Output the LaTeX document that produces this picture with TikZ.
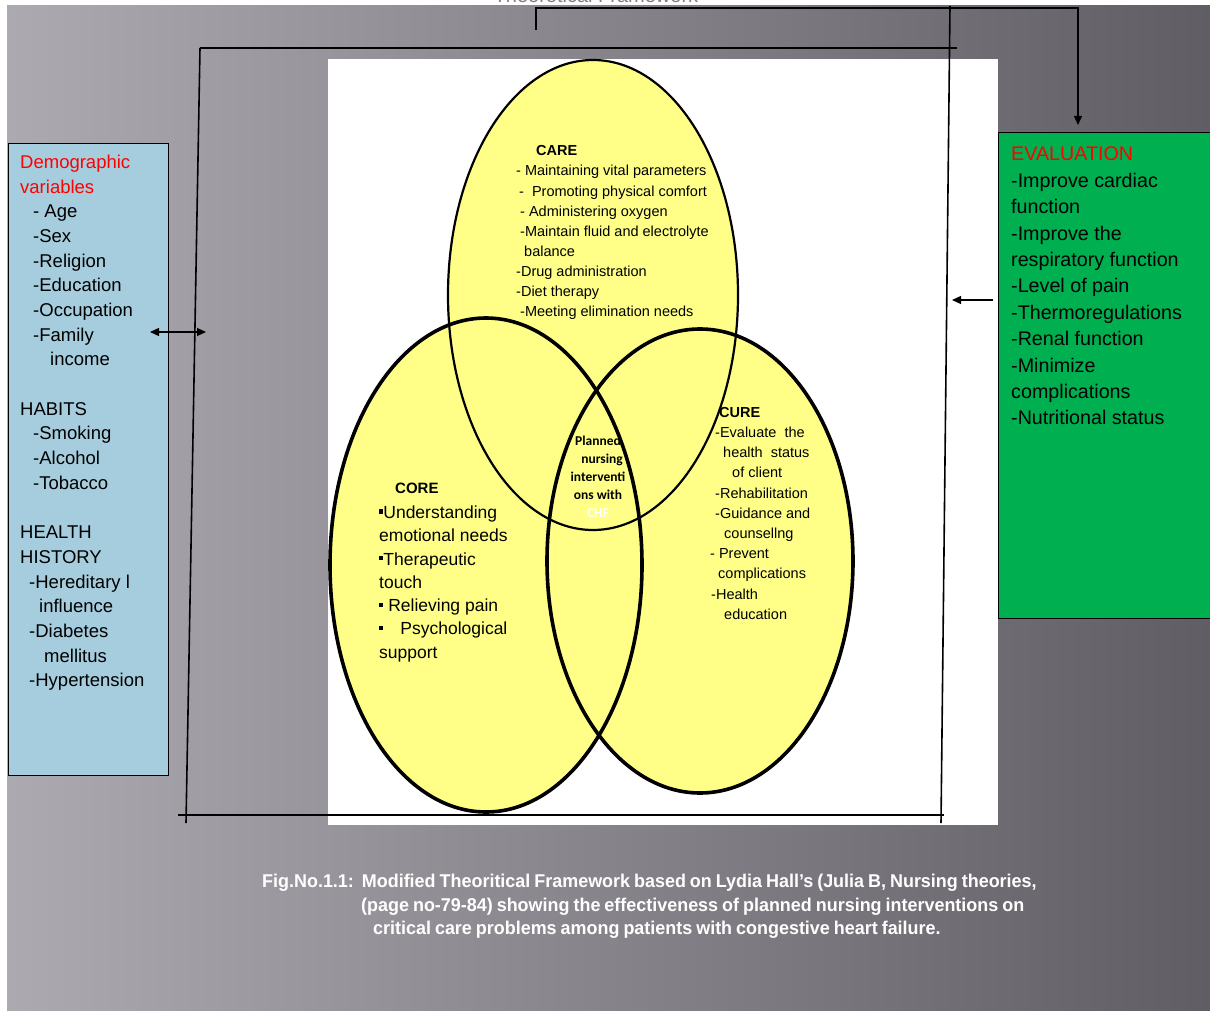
\documentclass[tikz,border=0pt]{standalone}
\usepackage{fontspec}
\setmainfont{Liberation Sans}
\newfontfamily\calibfont{Carlito}
\newfontfamily\capfont[FakeStretch=0.97,WordSpace=0.8]{Liberation Sans}
\usetikzlibrary{arrows.meta,positioning}

\definecolor{bgLeft}{RGB}{172,170,176}
\definecolor{bgRight}{RGB}{96,94,100}
\definecolor{demoblue}{RGB}{166,205,222}
\definecolor{evalgreen}{RGB}{0,176,80}
\definecolor{demored}{RGB}{255,0,0}
\definecolor{vennyellow}{RGB}{255,255,136}
\newcommand{\sqbullet}{\raisebox{0.28em}{\rule{0.24em}{0.24em}}}

\begin{document}
\begin{tikzpicture}
	[x=1pt,y=-1pt,
	frame line/.style={line width=1.6pt},
	link/.style={line width=1.3pt,-{Triangle[length=9pt,width=8pt]}},
	both link/.style={line width=1.3pt,{Triangle[length=9pt,width=8pt]}-{Triangle[length=9pt,width=8pt]}},
	venn line/.style={draw=black,line width=3.6pt},
	list/.style={align=left,inner sep=0pt,anchor=north west},
	side box/.style={draw=black,line width=1.2pt,inner sep=0pt,anchor=north west}]
	\useasboundingbox (0,0) rectangle (1210,1011);
	
	% backdrop and white panel
	\shade[left color=bgLeft,right color=bgRight] (7,6) rectangle (1210,1011);
	\fill[white] (328,59) rectangle (998,825);
	\begin{scope}
		\clip (0,0) rectangle (1210,6);
		\node[anchor=base,text=gray,font=\fontsize{20}{24}\selectfont,inner sep=0pt] (title) at (596,2.5) {Theoretical Framework};
	\end{scope}
	
	% three circles
	\coordinate (careC) at (593,295);
	\coordinate (coreC) at (486,565);
	\coordinate (cureC) at (700,561);
	\fill[vennyellow] (careC) ellipse [x radius=145, y radius=235];
	\fill[vennyellow] (coreC) ellipse [x radius=156, y radius=247];
	\fill[vennyellow] (cureC) ellipse [x radius=153, y radius=232];
	\draw[venn line,line width=2.2pt] (careC) ellipse [x radius=145, y radius=235];
	\draw[venn line] (coreC) ellipse [x radius=156, y radius=247];
	\draw[venn line] (cureC) ellipse [x radius=153, y radius=232];
	
	\node[list,font=\fontsize{14.5}{20.1}\selectfont] (care) at (516,145.5)
	{\hspace*{20pt}\textbf{CARE}\\
		- Maintaining vital parameters\\
		\hspace*{3pt}-\hspace*{8pt}Promoting physical comfort\\
		\hspace*{4pt}- Administering oxygen\\
		\hspace*{4pt}-Maintain fluid and electrolyte\\
		\hspace*{8pt}balance\\
		-Drug administration\\
		-Diet therapy\\
		\hspace*{4pt}-Meeting elimination needs};
	
	\node[list,font=\fontsize{14.5}{20.2}\selectfont] (cure) at (710,407)
	{\hspace*{9pt}\textbf{CURE}\\
		\hspace*{5pt}-Evaluate\ \ the\\
		\hspace*{13pt}health\ \ status\\
		\hspace*{22pt}of client\\
		\hspace*{5pt}-Rehabilitation\\
		\hspace*{5pt}-Guidance and\\
		\hspace*{14pt}counsellng\\
		- Prevent\\
		\hspace*{8pt}complications\\
		\hspace*{1pt}-Health\\
		\hspace*{14pt}education};
	
	\node[list,font=\bfseries\fontsize{15}{18}\selectfont] (coretitle) at (395,483) {CORE};
	\node[list,font=\fontsize{17.5}{23.3}\selectfont,below right=11.5pt and -16pt of coretitle.south west] (core)
	{\sqbullet Understanding\\
		emotional needs\\
		\sqbullet Therapeutic\\
		touch\\
		\sqbullet\ Relieving pain\\
		\sqbullet\hspace*{17pt}Psychological\\
		support};
	
	\node[align=center,inner sep=0pt,anchor=north,font=\calibfont\bfseries\fontsize{13.5}{18}\selectfont] (plan) at (598,436)
	{Planned\\ \hspace*{8pt}nursing\\ interventi\\ ons with\\ \textcolor{white}{CHF}};
	
	% side boxes
	\node[side box,fill=demoblue,minimum width=160pt,minimum height=632pt] (demobox) at (8,143) {};
	\node[list,font=\fontsize{18.5}{24.67}\selectfont] (demo) at (20,155)
	{\textcolor{demored}{Demographic}\\
		\textcolor{demored}{variables}\\
		\hspace*{13pt}- Age\\
		\hspace*{13pt}-Sex\\
		\hspace*{13pt}-Religion\\
		\hspace*{13pt}-Education\\
		\hspace*{13pt}-Occupation\\
		\hspace*{13pt}-Family\\
		\hspace*{30pt}income\\
		\\
		HABITS\\
		\hspace*{13pt}-Smoking\\
		\hspace*{13pt}-Alcohol\\
		\hspace*{13pt}-Tobacco\\
		\\
		HEALTH\\
		HISTORY\\
		\hspace*{9pt}-Hereditary l\\
		\hspace*{19pt}influence\\
		\hspace*{9pt}-Diabetes\\
		\hspace*{24pt}mellitus\\
		\hspace*{9pt}-Hypertension};
	
	\node[side box,fill=evalgreen,minimum width=230pt,minimum height=486pt] (evalbox) at (998,132) {};
	\node[list,font=\fontsize{19.7}{26.4}\selectfont] (eval) at (1011,147)
	{\textcolor{demored}{EVALUATION}\\
		-Improve cardiac\\
		function\\
		-Improve the\\
		respiratory function\\
		-Level of pain\\
		-Thermoregulations\\
		-Renal function\\
		-Minimize\\
		complications\\
		-Nutritional status};
	
	% frame lines
	\coordinate (topL) at (200,48);
	\coordinate (topR) at (957,48);
	\coordinate (leftB) at (186,823);
	\coordinate (botL) at (178,815);
	\coordinate (botR) at (944,815);
	\coordinate (rightT) at (950,6);
	\coordinate (rightB) at (941,823);
	\draw[frame line] (topL) -- (topR);
	\draw[frame line] (topL) -- (leftB);
	\draw[frame line] (botL) -- (botR);
	\draw[frame line] (rightT) -- (rightB);
	
	% arrows
	\coordinate (dblL) at (150,332);
	\coordinate (dblR) at (206,332);
	\draw[both link] (dblL) -- (dblR);
	\coordinate (evalOut) at (993,300);
	\coordinate (frameIn) at (952,300);
	\draw[link] (evalOut) -- (frameIn);
	\coordinate (brFoot) at (536,30);
	\coordinate (brTop) at (1078,8);
	\coordinate (brTip) at (1078,125);
	\draw[link] (brFoot) |- (brTop) -- (brTip);
	
	% caption
	\node[list,text=white,font=\capfont\bfseries\fontsize{18.5}{23.5}\selectfont] (caption) at (262,874)
	{Fig.No.1.1:\ \ Modified Theoritical Framework based on Lydia Hall’s (Julia B, Nursing theories,\\
		\hspace*{99pt}(page no-79-84) showing the effectiveness of planned nursing interventions on\\
		\hspace*{111pt}critical care problems among patients with congestive heart failure.};
\end{tikzpicture}
\end{document}
